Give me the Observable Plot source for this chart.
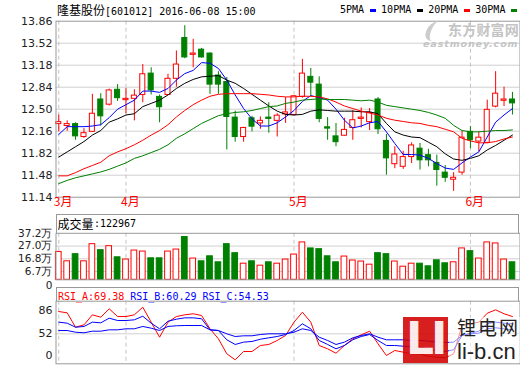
<!DOCTYPE html>
<html><head><meta charset="utf-8">
<script src="https://cdn.jsdelivr.net/npm/d3@7"></script>
<script src="https://cdn.jsdelivr.net/npm/@observablehq/plot@0.6"></script>
<style>
body{margin:0;background:#fff;}
#wrap{position:relative;width:520px;height:365px;overflow:hidden;background:#fff;}
.layer{position:absolute;left:0;top:0;}
.mono{font-family:"DejaVu Sans Mono",monospace;font-size:10px;}
.cjk{font-family:"Noto Sans CJK SC",sans-serif;font-size:12px;}
.hdr{position:absolute;left:55.5px;width:463px;border:1px solid #999;border-bottom:none;white-space:nowrap;box-sizing:border-box;}
</style></head><body>
<div id="wrap">
  <div class="layer" id="main"></div>
  <div class="layer" id="vol"></div>
  <div class="layer" id="rsi"></div>
  <div id="title" style="position:absolute;left:57px;top:1px;white-space:nowrap;color:#000;line-height:18px;"><span class="cjk">隆基股份</span><span class="mono">[601012] 2016-06-08 15:00</span></div>
  <div id="legend" style="position:absolute;left:340px;top:4px;white-space:nowrap;line-height:12px;display:flex;align-items:center;"></div>
  <div id="wm" style="position:absolute;left:423px;top:20px;width:97px;height:26px;color:#c4c4c4;">
    <div style="position:absolute;left:3px;top:1px;width:14px;height:20px;border-left:5px solid #ccc;border-radius:60% 0 0 60%;transform:skewX(-20deg);"></div>
    <div style="position:absolute;left:25px;top:2px;font:bold 14px/14px 'Noto Sans CJK SC';letter-spacing:0.2px;">东方财富网</div>
    <div style="position:absolute;left:0;top:18.5px;font:italic bold 9.5px/9px 'DejaVu Sans';letter-spacing:0.9px;">eastmoney.com</div>
  </div>
  <div class="hdr" style="top:214px;height:19px;"><span class="cjk" style="position:absolute;left:1px;top:0px;line-height:18px;">成交量</span><span class="mono" style="position:absolute;left:37.5px;top:0;line-height:18px;">:122967</span></div>
  <div class="hdr" id="rsihdr" style="top:287.3px;height:14px;line-height:13px;padding-left:1.5px;"></div>
  <div id="logo" style="position:absolute;left:403px;top:317px;width:117px;height:47px;">
    <div style="position:absolute;left:0;top:0;width:45px;height:46px;background:rgba(210,0,0,0.88);"></div>
    <div style="position:absolute;left:3px;top:0px;width:42px;font:bold 44px/44px 'DejaVu Sans';color:rgba(255,255,255,0.92);letter-spacing:-3px;">LI</div>
    <div style="position:absolute;left:46px;top:0;width:71px;height:46px;background:rgba(255,255,255,0.55);"></div>
    <div style="position:absolute;left:54px;top:0px;font:19px/19px 'Noto Sans CJK SC';color:#222;letter-spacing:2px;">锂电网</div>
    <div style="position:absolute;left:54px;top:25px;font:22px/20px 'Liberation Sans';color:#222;">li-b.cn</div>
  </div>
</div>
<script>
// ---- data ----
const monthStarts = [0, 8, 28, 49];
const monthLabels = ["3月", "4月", "5月", "6月"];
const priceTicks = [11.14, 11.48, 11.82, 12.16, 12.50, 12.84, 13.18, 13.52, 13.86];
const volTicks = [0, 6.7, 16.8, 27.0, 37.2];
const rsiTicks = [0, 52, 86];

const openP  = [12.27,12.24,12.27,12.07,12.15,12.65,12.57,12.80,12.64,12.66,12.72,13.05,12.69,12.72,12.97,13.60,13.34,13.42,13.36,13.02,12.92,12.37,12.07,12.36,12.28,12.37,12.32,12.42,12.41,12.69,13.00,12.88,12.22,12.08,12.09,12.21,12.35,12.30,12.65,12.01,11.65,11.61,11.76,11.89,11.79,11.67,11.52,11.41,11.52,12.15,12.00,11.98,12.54,12.63,12.65];
const closeP = [12.30,12.27,12.08,12.13,12.43,12.39,12.79,12.67,12.66,12.71,13.04,12.79,12.53,12.97,13.19,13.30,13.36,13.30,12.88,12.88,12.38,12.07,12.21,12.23,12.32,12.35,12.40,12.45,12.70,13.05,12.91,12.35,12.20,11.99,12.18,12.33,12.37,12.44,12.19,11.74,11.80,11.76,11.94,11.71,11.71,11.56,11.44,11.44,12.06,12.02,12.06,12.49,12.74,12.65,12.59];
const highP  = [12.41,12.32,12.29,12.20,12.73,12.74,12.81,12.88,12.82,12.80,13.19,13.14,12.72,13.04,13.40,13.79,13.58,13.44,13.37,13.08,12.99,12.47,12.22,12.39,12.38,12.60,12.43,12.68,12.71,13.27,13.13,13.00,12.37,12.28,12.36,12.48,12.52,12.51,12.68,12.11,11.92,11.85,11.98,11.97,11.88,11.79,11.63,11.52,12.16,12.23,12.15,12.64,13.08,12.84,12.76];
const lowP   = [12.15,12.16,12.02,12.05,12.14,12.24,12.55,12.62,12.43,12.32,12.60,12.72,12.29,12.71,12.84,13.28,13.14,13.29,12.73,12.73,11.87,11.99,11.99,12.15,12.19,12.13,12.07,12.28,12.40,12.67,12.70,12.29,12.02,11.92,12.08,12.02,12.21,12.17,12.11,11.48,11.58,11.57,11.66,11.56,11.61,11.31,11.37,11.23,11.48,11.89,11.84,11.97,12.52,12.54,12.41];

const ma5  = [12.11,12.23,12.23,12.23,12.24,12.26,12.37,12.50,12.57,12.64,12.78,12.78,12.76,12.82,12.95,13.05,13.10,13.22,13.21,13.13,12.95,12.72,12.51,12.35,12.24,12.24,12.29,12.38,12.48,12.62,12.71,12.68,12.64,12.50,12.33,12.21,12.24,12.29,12.31,12.15,11.97,11.80,11.80,11.79,11.74,11.66,11.59,11.57,11.67,11.76,11.84,12.07,12.30,12.41,12.51];
const ma10 = [11.76,11.84,11.92,12.00,12.10,12.17,12.30,12.35,12.41,12.43,12.54,12.59,12.64,12.72,12.82,12.90,12.96,13.00,13.01,13.02,12.95,12.90,12.82,12.73,12.64,12.55,12.47,12.42,12.41,12.42,12.47,12.49,12.48,12.47,12.47,12.47,12.46,12.46,12.43,12.28,12.15,12.10,12.07,12.06,11.99,11.92,11.81,11.73,11.71,11.74,11.78,11.87,11.94,12.02,12.10];
const ma20 = [11.47,11.47,11.52,11.58,11.63,11.68,11.78,11.84,11.89,11.95,12.02,12.10,12.17,12.26,12.38,12.48,12.57,12.64,12.70,12.73,12.74,12.74,12.74,12.74,12.73,12.72,12.70,12.69,12.69,12.70,12.70,12.69,12.66,12.61,12.55,12.51,12.47,12.44,12.41,12.36,12.33,12.31,12.29,12.28,12.25,12.23,12.19,12.15,12.05,12.01,11.98,11.98,12.00,12.04,12.07];
const ma30 = [11.35,11.40,11.44,11.47,11.50,11.53,11.57,11.62,11.67,11.74,11.78,11.83,11.88,11.95,12.05,12.12,12.20,12.28,12.34,12.40,12.43,12.45,12.46,12.48,12.51,12.54,12.55,12.59,12.61,12.64,12.65,12.66,12.65,12.65,12.65,12.64,12.63,12.64,12.61,12.56,12.54,12.52,12.50,12.48,12.45,12.41,12.36,12.25,12.17,12.15,12.15,12.16,12.17,12.17,12.18];

const volume = [22.3,14.8,20.5,14.8,28.5,23.7,26.9,18.0,16.2,23.4,22.6,17.2,17.2,22.6,24.2,34.2,17.0,14.8,18.8,14.0,28.5,21.3,12.9,14.8,11.3,14.0,12.9,16.2,20.2,29.9,25.1,24.5,18.8,14.0,18.6,15.4,14.6,12.1,21.3,20.5,14.6,10.5,12.9,12.9,10.8,15.6,13.2,14.0,25.1,22.9,17.0,29.9,29.1,16.2,14.0];

const rsiA = [84.5,82.6,61.6,65.1,79.7,76.2,88.5,77.2,77.2,79.7,90.8,69.0,43.9,69.0,77.2,79.7,81.2,78.7,59.3,40.0,4.1,-10.3,9.6,9.6,24.0,26.4,36.0,48.0,69.0,83.5,69.0,24.0,16.0,5.5,24.0,40.0,49.6,55.8,28.0,0.0,12.0,8.0,4.0,4.0,-2.4,-4.0,-5.6,4.0,64.0,66.6,69.0,82.0,87.0,81.2,77.2];
const rsiB = [69.0,67.5,61.6,62.7,69.0,68.0,74.8,71.4,71.4,72.4,77.7,67.5,59.3,70.4,73.3,75.3,75.3,73.9,57.8,56.8,37.6,26.4,32.0,33.6,39.0,42.4,45.5,50.3,56.8,66.6,59.3,36.0,26.4,16.0,24.0,37.6,45.5,50.3,36.0,24.0,24.0,22.3,21.6,19.9,16.0,12.0,9.6,13.7,47.9,52.9,55.8,66.6,69.0,67.5,66.6];
const rsiC = [56.8,56.8,54.3,53.5,55.8,55.8,57.8,57.8,59.3,59.3,62.7,60.2,56.8,62.7,63.7,64.1,64.1,64.1,57.8,56.8,52.0,45.5,47.2,47.2,50.3,52.0,52.0,52.0,54.3,59.3,56.8,43.9,36.0,26.4,32.0,42.4,47.9,52.0,43.9,37.6,37.6,37.6,36.0,36.0,34.3,32.0,31.2,32.0,47.9,52.0,52.9,59.3,60.8,59.3,57.8];

const maNames = ["5PMA", "10PMA", "20PMA", "30PMA"];
const maColors = ["#0000ff", "#000000", "#ff0000", "#008000"];
const rsiNames = ["RSI_A:69.38", "RSI_B:60.29", "RSI_C:54.53"];
const rsiColors = ["#ff0000", "#0000ff", "#0000ff"];

// ---- build ----
const RED = "#ff0000", GREEN = "#008000";
const idx = d3.range(openP.length);
const bars = idx.map(i => ({i, o: openP[i], c: closeP[i], h: highP[i], l: lowP[i], v: volume[i], up: closeP[i] >= openP[i]}));
const months = monthStarts.map((i, k) => ({i, label: monthLabels[k]}));
const xOpt = {domain: [-0.33, 54.9], axis: null};
const common = {width: 520, height: 365, marginLeft: 55.5, marginRight: 0.5,
  style: {background: "none", fontFamily: "'DejaVu Sans', sans-serif", fontSize: "11px", color: "#222", overflow: "visible"}};
const grid = "#d0d0d0", dash = {stroke: "#c4c4c4", strokeDasharray: "4,3"};

const mas = [ma5, ma10, ma20, ma30];
const main = Plot.plot({...common, marginTop: 20.7, marginBottom: 168.3, x: xOpt,
  y: {domain: [11.14, 13.86], ticks: priceTicks, tickFormat: d => d.toFixed(2), tickSize: 0, tickPadding: 3.5, label: null},
  marks: [
    Plot.ruleY(priceTicks.slice(1, -1), {stroke: grid}),
    Plot.ruleX(monthStarts, dash),
    Plot.ruleX(bars, {x: "i", y1: "l", y2: "h", stroke: d => d.up ? RED : GREEN}),
    Plot.rect(bars, {x1: d => d.i - 0.3, x2: d => d.i + 0.3, y1: "o", y2: "c", fill: d => d.up ? "#fff" : GREEN, stroke: d => d.up ? RED : GREEN}),
    ...mas.map((m, k) => Plot.line(idx, {x: d => d, y: d => m[d], stroke: maColors[k], strokeWidth: 1})),
    Plot.frame({stroke: "#999"}),
    Plot.text(months, {x: "i", frameAnchor: "bottom", text: "label", dy: 9, dx: -5, textAnchor: "start", fill: RED, fontSize: 12, fontFamily: "'Noto Sans CJK SC'"})
  ]});
document.getElementById("main").append(main);

const vol = Plot.plot({...common, marginTop: 232.8, marginBottom: 85.7, x: xOpt,
  style: {...common.style, fontSize: "10.5px"},
  y: {domain: [0, 37.2], ticks: volTicks, tickFormat: d => d === 0 ? "0" : d.toFixed(1) + "万", tickSize: 0, tickPadding: 3.5, label: null},
  marks: [
    Plot.ruleY(volTicks.slice(1, -1), {stroke: grid}),
    Plot.ruleX(monthStarts, dash),
    Plot.rect(bars, {x1: d => d.i - 0.34, x2: d => d.i + 0.34, y1: 0, y2: "v", fill: d => d.up ? "#fff" : GREEN, stroke: d => d.up ? RED : GREEN}),
    Plot.frame({stroke: "#999"})
  ]});
document.getElementById("vol").append(vol);
// nudge the "0" volume label slightly down so it doesn't collide with "6.7万"
vol.querySelectorAll("g[aria-label='y-axis tick label'] text").forEach(t => { if (t.textContent === "0") t.setAttribute("dy", "0.55em"); });

const rsis = [rsiA, rsiB, rsiC];
const rsi = Plot.plot({...common, marginTop: 300.7, marginBottom: 1.7, x: xOpt,
  y: {type: "linear", domain: [0, 52, 86], range: [355, 333.3, 310], ticks: rsiTicks, tickSize: 0, tickPadding: 3.5, label: null},
  marks: [
    Plot.ruleY([52], {stroke: grid}),
    Plot.ruleX(monthStarts, dash),
    ...rsis.map((r, k) => Plot.line(idx, {x: d => d, y: d => r[d], stroke: rsiColors[k], strokeWidth: 1})),
    Plot.frame({stroke: "#999"})
  ]});
document.getElementById("rsi").append(rsi);

// legend & rsi header
const lg = document.getElementById("legend");
maNames.forEach((n, k) => {
  const s = document.createElement("span"); s.className = "mono"; s.textContent = n; lg.append(s);
  const sw = document.createElement("span");
  sw.style.cssText = `display:inline-block;width:6px;height:3px;margin:0 5px 0 6px;background:${maColors[k]}`;
  lg.append(sw);
});
const rh = document.getElementById("rsihdr");
rsiNames.forEach((n, k) => {
  const s = document.createElement("span"); s.className = "mono"; s.style.color = rsiColors[k];
  s.textContent = n + (k < rsiNames.length - 1 ? " " : ""); s.style.whiteSpace = "pre"; rh.append(s);
});
</script>
</body></html>
